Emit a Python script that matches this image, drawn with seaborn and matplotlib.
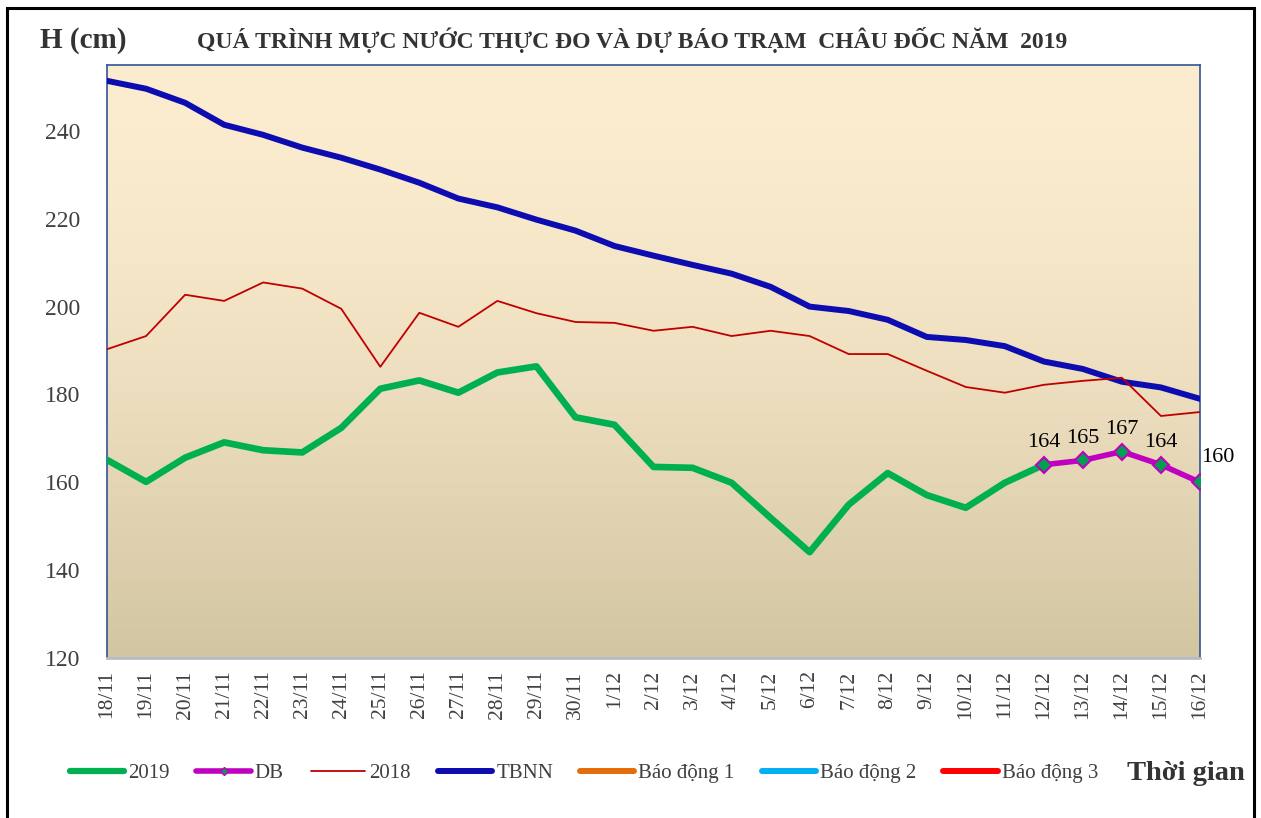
import numpy as np
import pandas as pd
import matplotlib
matplotlib.use('Agg')
import matplotlib.pyplot as plt
import seaborn as sns
from matplotlib.lines import Line2D
from matplotlib.patches import Rectangle

# dates on the x axis
dates = ['18/11', '19/11', '20/11', '21/11', '22/11', '23/11', '24/11', '25/11', '26/11',
         '27/11', '28/11', '29/11', '30/11', '1/12', '2/12', '3/12', '4/12', '5/12', '6/12',
         '7/12', '8/12', '9/12', '10/12', '11/12', '12/12', '13/12', '14/12', '15/12', '16/12']

# measured 2019
h2019 = [165.1, 160.1, 165.6, 169.1, 167.3, 166.8, 172.4, 181.3, 183.2, 180.4, 185.0, 186.4,
         174.8, 173.1, 163.5, 163.3, 159.9, 151.9, 144.1, 154.9, 162.1, 157.1, 154.2, 159.9,
         164.0, np.nan, np.nan, np.nan, np.nan]
# forecast (DB)
db = [np.nan] * 24 + [164, 165, 167, 164, 160]
# 2018
h2018 = [190.3, 193.3, 202.7, 201.3, 205.5, 204.1, 199.5, 186.3, 198.6, 195.4, 201.3, 198.5,
         196.5, 196.3, 194.5, 195.4, 193.3, 194.5, 193.3, 189.2, 189.2, 185.4, 181.7, 180.4,
         182.2, 183.1, 183.8, 175.1, 176.0]
# long-term average (TBNN)
tbnn = [251.4, 249.6, 246.4, 241.4, 239.1, 236.2, 233.9, 231.2, 228.2, 224.6, 222.6, 219.8,
        217.3, 213.8, 211.6, 209.5, 207.5, 204.5, 200.0, 199.0, 197.0, 193.1, 192.4, 191.0,
        187.5, 185.8, 182.9, 181.6, 179.0]
# alarm levels at Chau Doc (off the visible range)
alarm_levels = [350, 400, 450]
alarm_names = ['Báo động 1', 'Báo động 2', 'Báo động 3']
alarm_colors = ['#e46c0a', '#00b0f0', '#ff0000']

yticks = [120, 140, 160, 180, 200, 220, 240]

df = pd.DataFrame({'pos': np.arange(len(dates)), '2019': h2019, 'DB': db,
                   '2018': h2018, 'TBNN': tbnn})

sns.set_style('white')
plt.rcParams['font.family'] = ['Liberation Serif', 'DejaVu Serif']

fig = plt.figure(figsize=(12.61, 8.18), dpi=100)
ax = fig.add_axes([0.0849, 0.1956, 0.8667, 0.7249])

# gradient background
grad = np.linspace(0, 1, 256).reshape(-1, 1)
top = np.array([252, 237, 208]) / 255
bot = np.array([210, 197, 161]) / 255
img = top + (bot - top) * grad[:, :, None] ** 1.6
ax.imshow(img, extent=[0, 1, 0, 1], transform=ax.transAxes, aspect='auto', zorder=0)

sns.lineplot(data=df, x='pos', y='TBNN', color='#0c0cb0', lw=4.3, ax=ax, zorder=3)
sns.lineplot(data=df, x='pos', y='2018', color='#c00000', lw=1.3, ax=ax, zorder=3)
sns.lineplot(data=df.dropna(subset=['2019']), x='pos', y='2019', color='#00b050', lw=4.8,
             ax=ax, zorder=4)
dbd = df.dropna(subset=['DB'])
sns.lineplot(data=dbd, x='pos', y='DB', color='#c000c0', lw=4, ax=ax, zorder=5,
             marker='D', markersize=8, markerfacecolor='#00a050', markeredgecolor='#c000c0',
             markeredgewidth=1.5)
for lvl, c in zip(alarm_levels, alarm_colors):
    ax.axhline(lvl, color=c, lw=4)

for i, (p, v) in enumerate(zip(dbd['pos'], dbd['DB'])):
    if i == len(dbd) - 1:
        ax.annotate(f'{v:.0f}', (p, v), xytext=(13, 11), textcoords='offset points',
                    ha='center', va='bottom', fontsize=16, color='black', zorder=6,
                    annotation_clip=False)
    else:
        ax.annotate(f'{v:.0f}', (p, v), xytext=(0, 9), textcoords='offset points',
                    ha='center', va='bottom', fontsize=16, color='black', zorder=6)

ax.set_xlim(0, len(dates) - 1)
ax.set_ylim(120, 255)
ax.set_xticks(np.arange(len(dates)))
ax.set_xticklabels(dates, rotation=90, fontsize=15.5, color='#404040')
ax.set_yticks(yticks)
ax.set_yticklabels([str(t) for t in yticks], fontsize=17, color='#404040')
ax.tick_params(axis='x', length=0, pad=9)
ax.tick_params(axis='y', length=0, pad=19)
ax.set_xlabel('')
ax.set_ylabel('')
for s in ['left', 'right', 'top']:
    ax.spines[s].set_color('#2f5597')
    ax.spines[s].set_linewidth(1.2)
ax.spines['bottom'].set_color('#b4bcc8')
ax.spines['bottom'].set_linewidth(2)

fig.text(0.032, 0.951, 'H (cm)', fontsize=21, fontweight='bold', color='#333333',
         va='center', ha='left')
fig.text(0.501, 0.951, 'QUÁ TRÌNH MỰC NƯỚC THỰC ĐO VÀ DỰ BÁO TRẠM  CHÂU ĐỐC NĂM  2019',
         fontsize=17, fontweight='bold', color='#333333', va='center', ha='center')
fig.text(0.894, 0.055, 'Thời gian', fontsize=20.5, fontweight='bold', color='#333333',
         va='center', ha='left')

handles = [Line2D([], [], color='#00b050', lw=4.5, solid_capstyle='round'),
           Line2D([], [], color='#c000c0', lw=4, marker='D', markersize=4,
                  markerfacecolor='#00a050', markeredgecolor='#c000c0', solid_capstyle='round'),
           Line2D([], [], color='#c00000', lw=1.3),
           Line2D([], [], color='#0c0cb0', lw=4.3, solid_capstyle='round')]
handles += [Line2D([], [], color=c, lw=4.3, solid_capstyle='round') for c in alarm_colors]
labels = ['2019', 'DB', '2018', 'TBNN'] + alarm_names
fig.legend(handles, labels, loc='center', bbox_to_anchor=(0.463, 0.055), ncol=7,
           frameon=False, fontsize=15, handlelength=2.6, handletextpad=0.2,
           columnspacing=1.3, labelcolor='#404040')

# outer frame
fig.add_artist(Rectangle((0.0055, -0.02), 0.989, 1.01, transform=fig.transFigure,
                         fill=False, edgecolor='black', lw=2.2))

fig.savefig('out.png', dpi=100)
